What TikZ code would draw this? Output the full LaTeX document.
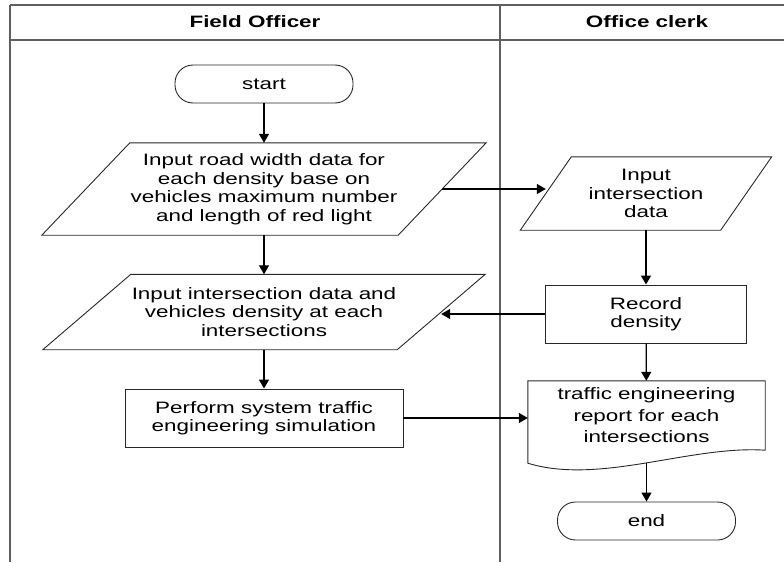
\documentclass[tikz,border=0pt]{standalone}
\usepackage{fontspec}
\setmainfont{Liberation Sans}[FakeStretch=1.36]
\usetikzlibrary{arrows.meta,calc}
\definecolor{lanegray}{RGB}{95,95,95}
\definecolor{boxgray}{RGB}{40,40,40}

\begin{document}
\begin{tikzpicture}[x=1pt,y=-1pt,
  lane/.style={draw=lanegray,line width=1.5pt},
  hdr/.style={font=\fontsize{16.5}{18.5}\selectfont\bfseries,inner sep=0pt},
  lbl/.style={align=center,font=\fontsize{16.5}{18.5}\selectfont,inner sep=0pt},
  term/.style={lbl,draw=boxgray,line width=0.9pt,rounded corners=18pt,minimum width=178pt,minimum height=38pt},
  procbox/.style={lbl,draw=boxgray,line width=0.9pt},
  shapeline/.style={draw=boxgray,line width=0.9pt},
  flow/.style={-{Triangle[width=10pt,length=9pt]},line width=1.3pt}]
\useasboundingbox (0,0) rectangle (784,562);
%lanes%
\draw[lane] (10,5) -- (784,5);
\draw[lane] (10,40) -- (784,40);
\draw[lane] (10,5) -- (10,562);
\draw[lane] (500,5) -- (500,562);
\node[hdr] (fieldhdr) at (255,22) {Field Officer};
\node[hdr] (clerkhdr) at (647,22) {Office clerk};
%field officer%
\node[term] (start) at (264,84) {start};
\node[lbl,minimum width=356pt,minimum height=92pt] (road) at (264,189)
  {Input road width data for\\each density base on\\vehicles maximum number\\and length of red light};
\draw[shapeline] ([xshift=44pt]road.north west) -- ([xshift=44pt]road.north east)
  -- ([xshift=-44pt]road.south east) -- ([xshift=-44pt]road.south west) -- cycle;
\node[lbl,minimum width=354pt,minimum height=75pt] (dens) at (264,312)
  {Input intersection data and\\vehicles density at each\\intersections};
\draw[shapeline] ([xshift=44pt]dens.north west) -- ([xshift=44pt]dens.north east)
  -- ([xshift=-44pt]dens.south east) -- ([xshift=-44pt]dens.south west) -- cycle;
\node[procbox,minimum width=278pt,minimum height=58pt] (sim) at (264,418)
  {Perform system traffic\\engineering simulation};
%office clerk%
\node[lbl,minimum width=200pt,minimum height=73pt] (inxn) at (646,193.5)
  {Input\\intersection\\data};
\draw[shapeline] ([xshift=25.5pt]inxn.north west) -- ([xshift=25.5pt]inxn.north east)
  -- ([xshift=-25.5pt]inxn.south east) -- ([xshift=-25.5pt]inxn.south west) -- cycle;
\node[procbox,minimum width=201pt,minimum height=58pt] (rec) at (646,314)
  {Record\\density};
\node[lbl,font=\fontsize{16.5}{21.5}\selectfont,minimum width=237pt,minimum height=69pt] (doc) at (646.5,415.5)
  {traffic engineering\\report for each\\intersections};
\draw[shapeline] (doc.north west) -- (doc.north east) -- (doc.south east)
  .. controls +(-75,-5) and +(72,22) .. ([yshift=-13pt]doc.south west) -- cycle;
\node[term] (end) at (646.5,521) {end};
%arrows%
\draw[flow] (start) -- (road);
\draw[flow] (road) -- (dens);
\draw[flow] (dens) -- (sim);
\draw[flow] (road.east) -- (road.east -| inxn.west);
\draw[flow] (inxn) -- (rec);
\draw[flow] (rec.west) -- (rec.west -| dens.east);
\draw[flow] (rec) -- (doc);
\draw[flow] (sim.east) -- (sim.east -| doc.west);
\draw[flow] ([yshift=-13pt]doc.south) -- (end);
\end{tikzpicture}
\end{document}
